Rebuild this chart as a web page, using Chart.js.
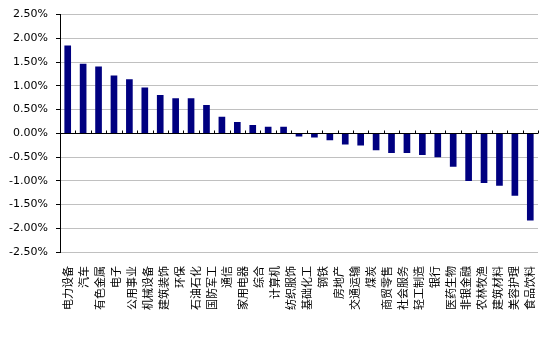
<!DOCTYPE html>
<html>
<head>
<meta charset="utf-8">
<script src="https://cdn.jsdelivr.net/npm/chart.js@4.4.0/dist/chart.umd.min.js"></script>
<style>
  html, body { margin: 0; padding: 0; background: #fff; }
  #box { width: 556px; height: 352px; }
</style>
</head>
<body>
<div id="box"><canvas id="grafica" width="556" height="352"></canvas></div>
<script>
// 横轴显示的行业名称（原图共 30 个标签，均匀排布）
const industrias = ['电力设备', '汽车', '有色金属', '电子', '公用事业', '机械设备', '建筑装饰', '环保',
    '石油石化', '国防军工', '通信', '家用电器', '综合', '计算机', '纺织服饰', '基础化工',
    '钢铁', '房地产', '交通运输', '煤炭', '商贸零售', '社会服务', '轻工制造', '银行', '医药生物',
    '非银金融', '农林牧渔', '建筑材料', '美容护理', '食品饮料'];

// 涨跌幅（%），原图共 31 根柱
const rendimientos = [1.84, 1.46, 1.40, 1.21, 1.13, 0.96, 0.80, 0.73, 0.73, 0.59, 0.34, 0.23,
    0.17, 0.13, 0.13, -0.06, -0.08, -0.14, -0.23, -0.25, -0.35, -0.41, -0.41, -0.45, -0.50,
    -0.70, -1.00, -1.04, -1.10, -1.31, -1.83];

// 纵轴范围
const ejeMin = -2.5;
const ejeMax = 2.5;
const ejePaso = 0.5;

// 柱子所在的类别轴（序号）
const posiciones = rendimientos.map((v, i) => String(i + 1));

// 在零轴上画出类别分隔刻度（向上）
const marcasCero = {
    id: 'marcasCero',
    afterDatasetsDraw(chart) {
        const x = chart.scales.x;
        const y = chart.scales.y;
        const y0 = Math.round(y.getPixelForValue(0)) + 0.5;
        const ctx = chart.ctx;
        const n = posiciones.length;
        ctx.save();
        ctx.strokeStyle = '#000';
        ctx.lineWidth = 1;
        ctx.beginPath();
        ctx.moveTo(x.left, y0);
        ctx.lineTo(x.right, y0);
        for (let i = 1; i <= n; i++) {
            const px = Math.round(x.left + (x.right - x.left) * i / n) + 0.5;
            ctx.moveTo(px, y0);
            ctx.lineTo(px, y0 - 3);
        }
        ctx.stroke();
        ctx.restore();
    }
};

const ctx = document.getElementById('grafica').getContext('2d');
const chart = new Chart(ctx, {
    type: 'bar',
    data: {
        labels: posiciones,
        datasets: [{
            data: rendimientos,
            xAxisID: 'x',
            backgroundColor: '#000080',
            borderWidth: 0,
            barThickness: 6
        }]
    },
    options: {
        responsive: false,
        animation: false,
        layout: { padding: { top: 13, right: 18, left: 0, bottom: 0 } },
        plugins: {
            legend: { display: false },
            tooltip: { enabled: false }
        },
        scales: {
            x: {
                display: false
            },
            etiquetas: {
                type: 'category',
                labels: industrias,
                position: 'bottom',
                offset: true,
                grid: { display: false },
                border: { display: false },
                ticks: {
                    autoSkip: false,
                    minRotation: 90,
                    maxRotation: 90,
                    padding: 6,
                    color: '#000',
                    font: { family: '"Noto Sans CJK SC"', size: 11 }
                },
                afterFit(scale) { scale.height = 100; }
            },
            y: {
                min: ejeMin,
                max: ejeMax,
                grid: {
                    color: '#c0c0c0',
                    tickColor: '#000',
                    tickLength: 4
                },
                border: { display: true, color: '#000' },
                ticks: {
                    stepSize: ejePaso,
                    padding: 8,
                    color: '#000',
                    font: { family: '"DejaVu Sans"', size: 11 },
                    callback: v => v.toFixed(2) + '%'
                },
                afterFit(scale) { scale.width = 60; }
            }
        }
    },
    plugins: [marcasCero]
});
</script>
</body>
</html>
